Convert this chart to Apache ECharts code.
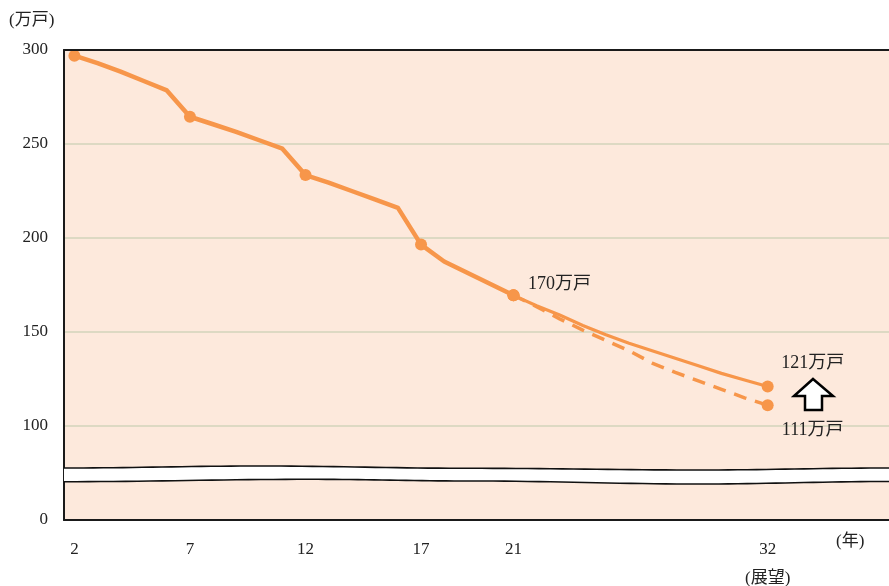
<!DOCTYPE html>
<html><head><meta charset="utf-8">
<script src="https://cdn.jsdelivr.net/npm/echarts@6/dist/echarts.min.js"></script>
<style>html,body{margin:0;padding:0;background:#fff}#c{width:889px;height:586px}</style>
</head><body><div id="c"></div>
<script>
// ---- data ----
var histYears = [2,3,4,5,6,7,8,9,10,11,12,13,14,15,16,17,18,19,20,21];
var histValues = [297,293,288.5,283.5,278.5,264.5,260.5,256.5,252,247.5,233.5,229.5,225,220.5,216,196.5,187.5,181.5,175.5,169.5];
var projYears = [21,22,23,24,25,26,27,28,29,30,31,32];
var projHighValues = [169.5,164,159,153.5,148.5,144,140,136,132,128,124.5,121];
var projLowValues = [169.5,163.5,157,151,145.5,140,133.5,128.5,124,119.5,115,111];
var markedYears = [2,7,12,17,21,32];
var xTickYears = [2,7,12,17,21,32];
var yTicks = [50,100,150,200,250,300]; // 50 on the display axis is shown as "0" (broken axis)
var labelTexts = {hist21:'170万戸', high32:'121万戸', low32:'111万戸'};

var ORANGE = '#f7964a';
var FONT = "'Liberation Serif','Noto Sans CJK JP',serif";

function build(years, values, labels) {
  return years.map(function (y, i) {
    var item = {value: [y, values[i]]};
    if (markedYears.indexOf(y) < 0) item.symbol = 'none';
    if (labels && labels[y]) item.label = labels[y];
    return item;
  });
}
function lbl(text, off) {
  return {show: true, position: 'inside', offset: off, formatter: text,
    color: '#222', fontSize: 18, fontFamily: FONT};
}

// break band decoration
function wave(pts) {
  var out = [];
  for (var i = 0; i < pts.length - 1; i++) {
    var a = pts[i], b = pts[i + 1];
    for (var k = 0; k < 20; k++) {
      var t = k / 20, m = (1 - Math.cos(t * Math.PI)) / 2;
      out.push([a[0] + (b[0] - a[0]) * t, a[1] + (b[1] - a[1]) * m]);
    }
  }
  out.push(pts[pts.length - 1]);
  return out;
}
var upper = wave([[64,468],[260,466],[470,468.3],[700,470],[889,468]]);
var lower = wave([[64,481.7],[310,479.3],[470,481],[700,484],[889,481.5]]);
var band = upper.concat(lower.slice().reverse());

var chart = echarts.init(document.getElementById('c'), null, {renderer: 'canvas'});
chart.setOption({
  animation: false,
  backgroundColor: '#fff',
  grid: {left: 64, right: 0, top: 50, bottom: 66, outerBoundsMode: 'none', containLabel: false,
    show: true, backgroundColor: '#fde9dc', borderWidth: 0},
  xAxis: [{
    type: 'value', min: 1.55, max: 37.25, position: 'bottom',
    axisLine: {show: true, onZero: false, lineStyle: {color: '#1a1a1a', width: 2}},
    axisTick: {show: false}, splitLine: {show: false},
    axisLabel: {customValues: xTickYears, margin: 15, color: '#222', fontSize: 17, fontFamily: FONT,
      lineHeight: 29, verticalAlign: 'top',
      formatter: function (v) { return v === 32 ? '32\n(展望)' : String(v); }}
  }, {
    type: 'value', min: 1.55, max: 37.25, position: 'top', z: 10,
    axisLine: {show: true, onZero: false, lineStyle: {color: '#1a1a1a', width: 2}},
    axisTick: {show: false}, axisLabel: {show: false}, splitLine: {show: false}
  }],
  yAxis: {
    type: 'value', min: 50, max: 300, interval: 50,
    axisLine: {show: true, onZero: false, lineStyle: {color: '#1a1a1a', width: 2}},
    axisTick: {show: false},
    splitLine: {show: true, lineStyle: {color: '#ddd9c3', width: 2}},
    axisLabel: {margin: 16, color: '#222', fontSize: 17, fontFamily: FONT,
      formatter: function (v) { return v === 50 ? '0' : String(v); }}
  },
  graphic: [
    {type: 'polygon', shape: {points: band}, style: {fill: '#ffffff', stroke: null}, z: 5},
    {type: 'polyline', shape: {points: upper}, style: {stroke: '#111', lineWidth: 1.6, fill: null}, z: 6},
    {type: 'polyline', shape: {points: lower}, style: {stroke: '#111', lineWidth: 1.6, fill: null}, z: 6},
    {type: 'polygon', shape: {points: [[813,379],[833,396],[822,396],[822,410],[805,410],[805,396],[794,396]]},
      style: {fill: '#fff', stroke: '#000', lineWidth: 2.5}, z: 6},
    {type: 'text', left: 9, top: 12, style: {text: '(万戸)', fontSize: 17, fontFamily: FONT, fill: '#222'}},
    {type: 'text', left: 836, top: 533, style: {text: '(年)', fontSize: 17, fontFamily: FONT, fill: '#222'}}
  ],
  series: [{
    type: 'line', z: 3, symbol: 'circle', symbolSize: 12, itemStyle: {color: ORANGE},
    lineStyle: {color: ORANGE, width: 3.5, type: [13, 9]},
    data: build(projYears, projLowValues, {32: lbl(labelTexts.low32, [45, 25])})
  }, {
    type: 'line', z: 4, symbol: 'circle', symbolSize: 12, itemStyle: {color: ORANGE},
    lineStyle: {color: ORANGE, width: 3.2},
    data: build(projYears, projHighValues, {32: lbl(labelTexts.high32, [45, -23])})
  }, {
    type: 'line', z: 5, symbol: 'circle', symbolSize: 12, itemStyle: {color: ORANGE},
    lineStyle: {color: ORANGE, width: 4.5, join: 'round'},
    data: build(histYears, histValues, {21: lbl(labelTexts.hist21, [46, -11])})
  }]
});
</script></body></html>
